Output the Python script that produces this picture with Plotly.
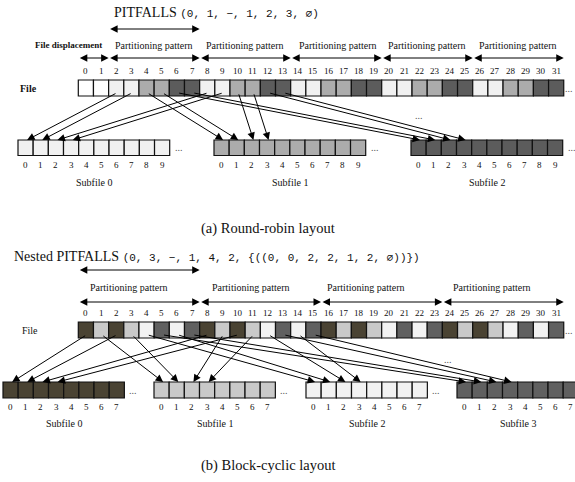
import plotly.graph_objects as go

# ---------------- data ----------------
# (a) Round-robin layout
a_title_main = "PITFALLS"
a_title_tuple = "(0, 1, −, 1, 2, 3, ∅)"
a_file_shade = ["white", "white"] + ["light", "light", "medium", "medium", "dark", "dark"] * 5
a_palette = {"white": "#ffffff", "light": "#f1f1f1", "medium": "#acacac", "dark": "#5c5c5c"}
a_segment_bounds = [0, 2, 8, 14, 20, 26, 32]
a_segment_labels = ["<b>File displacement</b>"] + ["Partitioning pattern"] * 5
a_title_span = [2, 8]
a_subfile_names = ["Subfile 0", "Subfile 1", "Subfile 2"]
a_subfile_shade = ["light", "medium", "dark"]
a_subfile_len = 10
# (file cell, subfile, subfile cell)
a_links = [(2, 0, 0), (3, 0, 1), (8, 0, 2), (9, 0, 3),
           (4, 1, 0), (5, 1, 1), (10, 1, 2), (11, 1, 3),
           (6, 2, 0), (7, 2, 1), (12, 2, 2), (13, 2, 3)]
a_caption = "(a) Round-robin layout"

# (b) Block-cyclic layout
b_title_main = "Nested PITFALLS"
b_title_tuple = "(0, 3, −, 1, 4, 2, {((0, 0, 2, 2, 1, 2, ∅))})"
b_file_shade = ["brown", "lgray", "brown", "lgray", "white", "dgray", "white", "dgray"] * 4
b_palette = {"brown": "#4a4333", "lgray": "#c9c9c9", "white": "#f2f2f2", "dgray": "#606060"}
b_segment_bounds = [0, 8, 16, 24, 32]
b_segment_labels = ["Partitioning pattern"] * 4
b_title_span = [0, 8]
b_subfile_names = ["Subfile 0", "Subfile 1", "Subfile 2", "Subfile 3"]
b_subfile_shade = ["brown", "lgray", "white", "dgray"]
b_subfile_len = 8
b_links = [(0, 0, 0), (2, 0, 1), (8, 0, 2), (10, 0, 3),
           (1, 1, 0), (3, 1, 1), (9, 1, 2), (11, 1, 3),
           (4, 2, 0), (6, 2, 1), (12, 2, 2), (14, 2, 3),
           (5, 3, 0), (7, 3, 1), (13, 3, 2), (15, 3, 3)]
b_caption = "(b) Block-cyclic layout"

n_file = 32

# ---------------- layout constants ----------------
W, H = 575, 482
CELL = 15.17
FILE_X0 = 78.3
SERIF = "Liberation Serif"
MONO = "Liberation Mono"

panels = [
    dict(title_main=a_title_main, title_tuple=a_title_tuple, title_x=112, title_y=12,
         title_arrow_y=29, title_span=a_title_span,
         seg_bounds=a_segment_bounds, seg_labels=a_segment_labels, seg_label_y=45,
         seg_label_shift=[-25, 0, 0, 2, 0, 0], seg_arrow_y=58,
         idx_y=71, file_top=80, file_h=16, file_label="<b>File</b>", file_label_x=28,
         shade=a_file_shade, palette=a_palette,
         sub_x0=[18, 214, 411], sub_top=140, sub_h=15.5, sub_len=a_subfile_len,
         sub_names=a_subfile_names, sub_shade=a_subfile_shade,
         sub_idx_y=165, sub_name_y=182, links=a_links,
         mid_dots=(419, 115), caption=a_caption, caption_y=228, sub_dots=[True, True, True]),
    dict(title_main=b_title_main, title_tuple=b_title_tuple, title_x=12, title_y=256,
         title_arrow_y=270, title_span=b_title_span,
         seg_bounds=b_segment_bounds, seg_labels=b_segment_labels, seg_label_y=287,
         seg_label_shift=[-10, -9, -16, -11], seg_arrow_y=302,
         idx_y=313, file_top=322, file_h=16, file_label="File", file_label_x=30,
         shade=b_file_shade, palette=b_palette,
         sub_x0=[3, 154, 306, 457], sub_top=382, sub_h=16, sub_len=b_subfile_len,
         sub_names=b_subfile_names, sub_shade=b_subfile_shade,
         sub_idx_y=407, sub_name_y=423, links=b_links,
         mid_dots=(448, 359), caption=b_caption, caption_y=465, sub_dots=[True, True, True, False]),
]

shapes = []
ann = []


def text(x, y, s, size=10, family=SERIF, xanchor="center", color="#111"):
    ann.append(dict(x=x, y=y, xref="x", yref="y", text=s, showarrow=False,
                    xanchor=xanchor, yanchor="middle",
                    font=dict(family=family, size=size, color=color)))


def arrow(x0, y0, x1, y1, both=False, size=1.5):
    ann.append(dict(x=x1, y=y1, ax=x0, ay=y0, xref="x", yref="y", axref="x", ayref="y",
                    text="", showarrow=True, arrowhead=2, startarrowhead=2,
                    arrowsize=size, startarrowsize=size, arrowwidth=1,
                    arrowcolor="#000", standoff=0, startstandoff=0,
                    arrowside="end+start" if both else "end"))


def cellx(i):
    return FILE_X0 + i * CELL


for p in panels:
    # title
    text(p["title_x"], p["title_y"],
         p["title_main"] + ' <span style="font-family:' + MONO + ',monospace;font-size:11px">'
         + p["title_tuple"] + "</span>", size=14, xanchor="left")
    arrow(cellx(p["title_span"][0]), p["title_arrow_y"], cellx(p["title_span"][1]),
          p["title_arrow_y"], both=True)
    # segments
    b = p["seg_bounds"]
    for k in range(len(b) - 1):
        xa, xb = cellx(b[k]), cellx(b[k + 1])
        arrow(xa, p["seg_arrow_y"], xb, p["seg_arrow_y"], both=True)
        lab = p["seg_labels"][k]
        size = 9 if lab.startswith("<b>") else 10
        text((xa + xb) / 2 + p["seg_label_shift"][k], p["seg_label_y"], lab, size=size)
    # file row
    text(p["file_label_x"], p["file_top"] + p["file_h"] / 2, p["file_label"], size=10)
    for i in range(n_file):
        x0 = cellx(i)
        shapes.append(dict(type="rect", xref="x", yref="y", x0=x0, x1=x0 + CELL,
                           y0=p["file_top"], y1=p["file_top"] + p["file_h"],
                           fillcolor=p["palette"][p["shade"][i]],
                           line=dict(color="#111", width=1.2)))
        text(x0 + CELL / 2, p["idx_y"], str(i), size=9)
    text(cellx(n_file) + 5, p["file_top"] + p["file_h"] / 2, "...", size=10, color="#555")
    # subfiles
    for s, sx in enumerate(p["sub_x0"]):
        for j in range(p["sub_len"]):
            x0 = sx + j * CELL
            shapes.append(dict(type="rect", xref="x", yref="y", x0=x0, x1=x0 + CELL,
                               y0=p["sub_top"], y1=p["sub_top"] + p["sub_h"],
                               fillcolor=p["palette"][p["sub_shade"][s]],
                               line=dict(color="#111", width=1.2)))
            text(x0 + CELL / 2, p["sub_idx_y"], str(j), size=9)
        if p["sub_dots"][s]:
            text(sx + p["sub_len"] * CELL + 9, p["sub_top"] + p["sub_h"] / 2, "...",
                 size=10, color="#555")
        text(sx + p["sub_len"] * CELL / 2, p["sub_name_y"], p["sub_names"][s], size=10)
    # links
    for (i, s, j) in p["links"]:
        x0 = cellx(i) + CELL * 0.55
        y0 = p["file_top"] + p["file_h"] * 0.8
        x1 = p["sub_x0"][s] + (j + 0.6) * CELL
        y1 = p["sub_top"]
        arrow(x0, y0, x1, y1)
    text(p["mid_dots"][0], p["mid_dots"][1], "...", size=10, color="#555")
    text(268, p["caption_y"], p["caption"], size=14.5)

fig = go.Figure()
fig.update_layout(
    width=W, height=H, margin=dict(l=0, r=0, t=0, b=0),
    paper_bgcolor="white", plot_bgcolor="white",
    xaxis=dict(range=[0, W], visible=False, fixedrange=True),
    yaxis=dict(range=[H, 0], visible=False, fixedrange=True),
    shapes=shapes, annotations=ann, showlegend=False,
)
fig.write_html("out.html", config={"displayModeBar": False},
               post_script="document.body.style.margin='0';document.body.style.overflow='hidden';")
